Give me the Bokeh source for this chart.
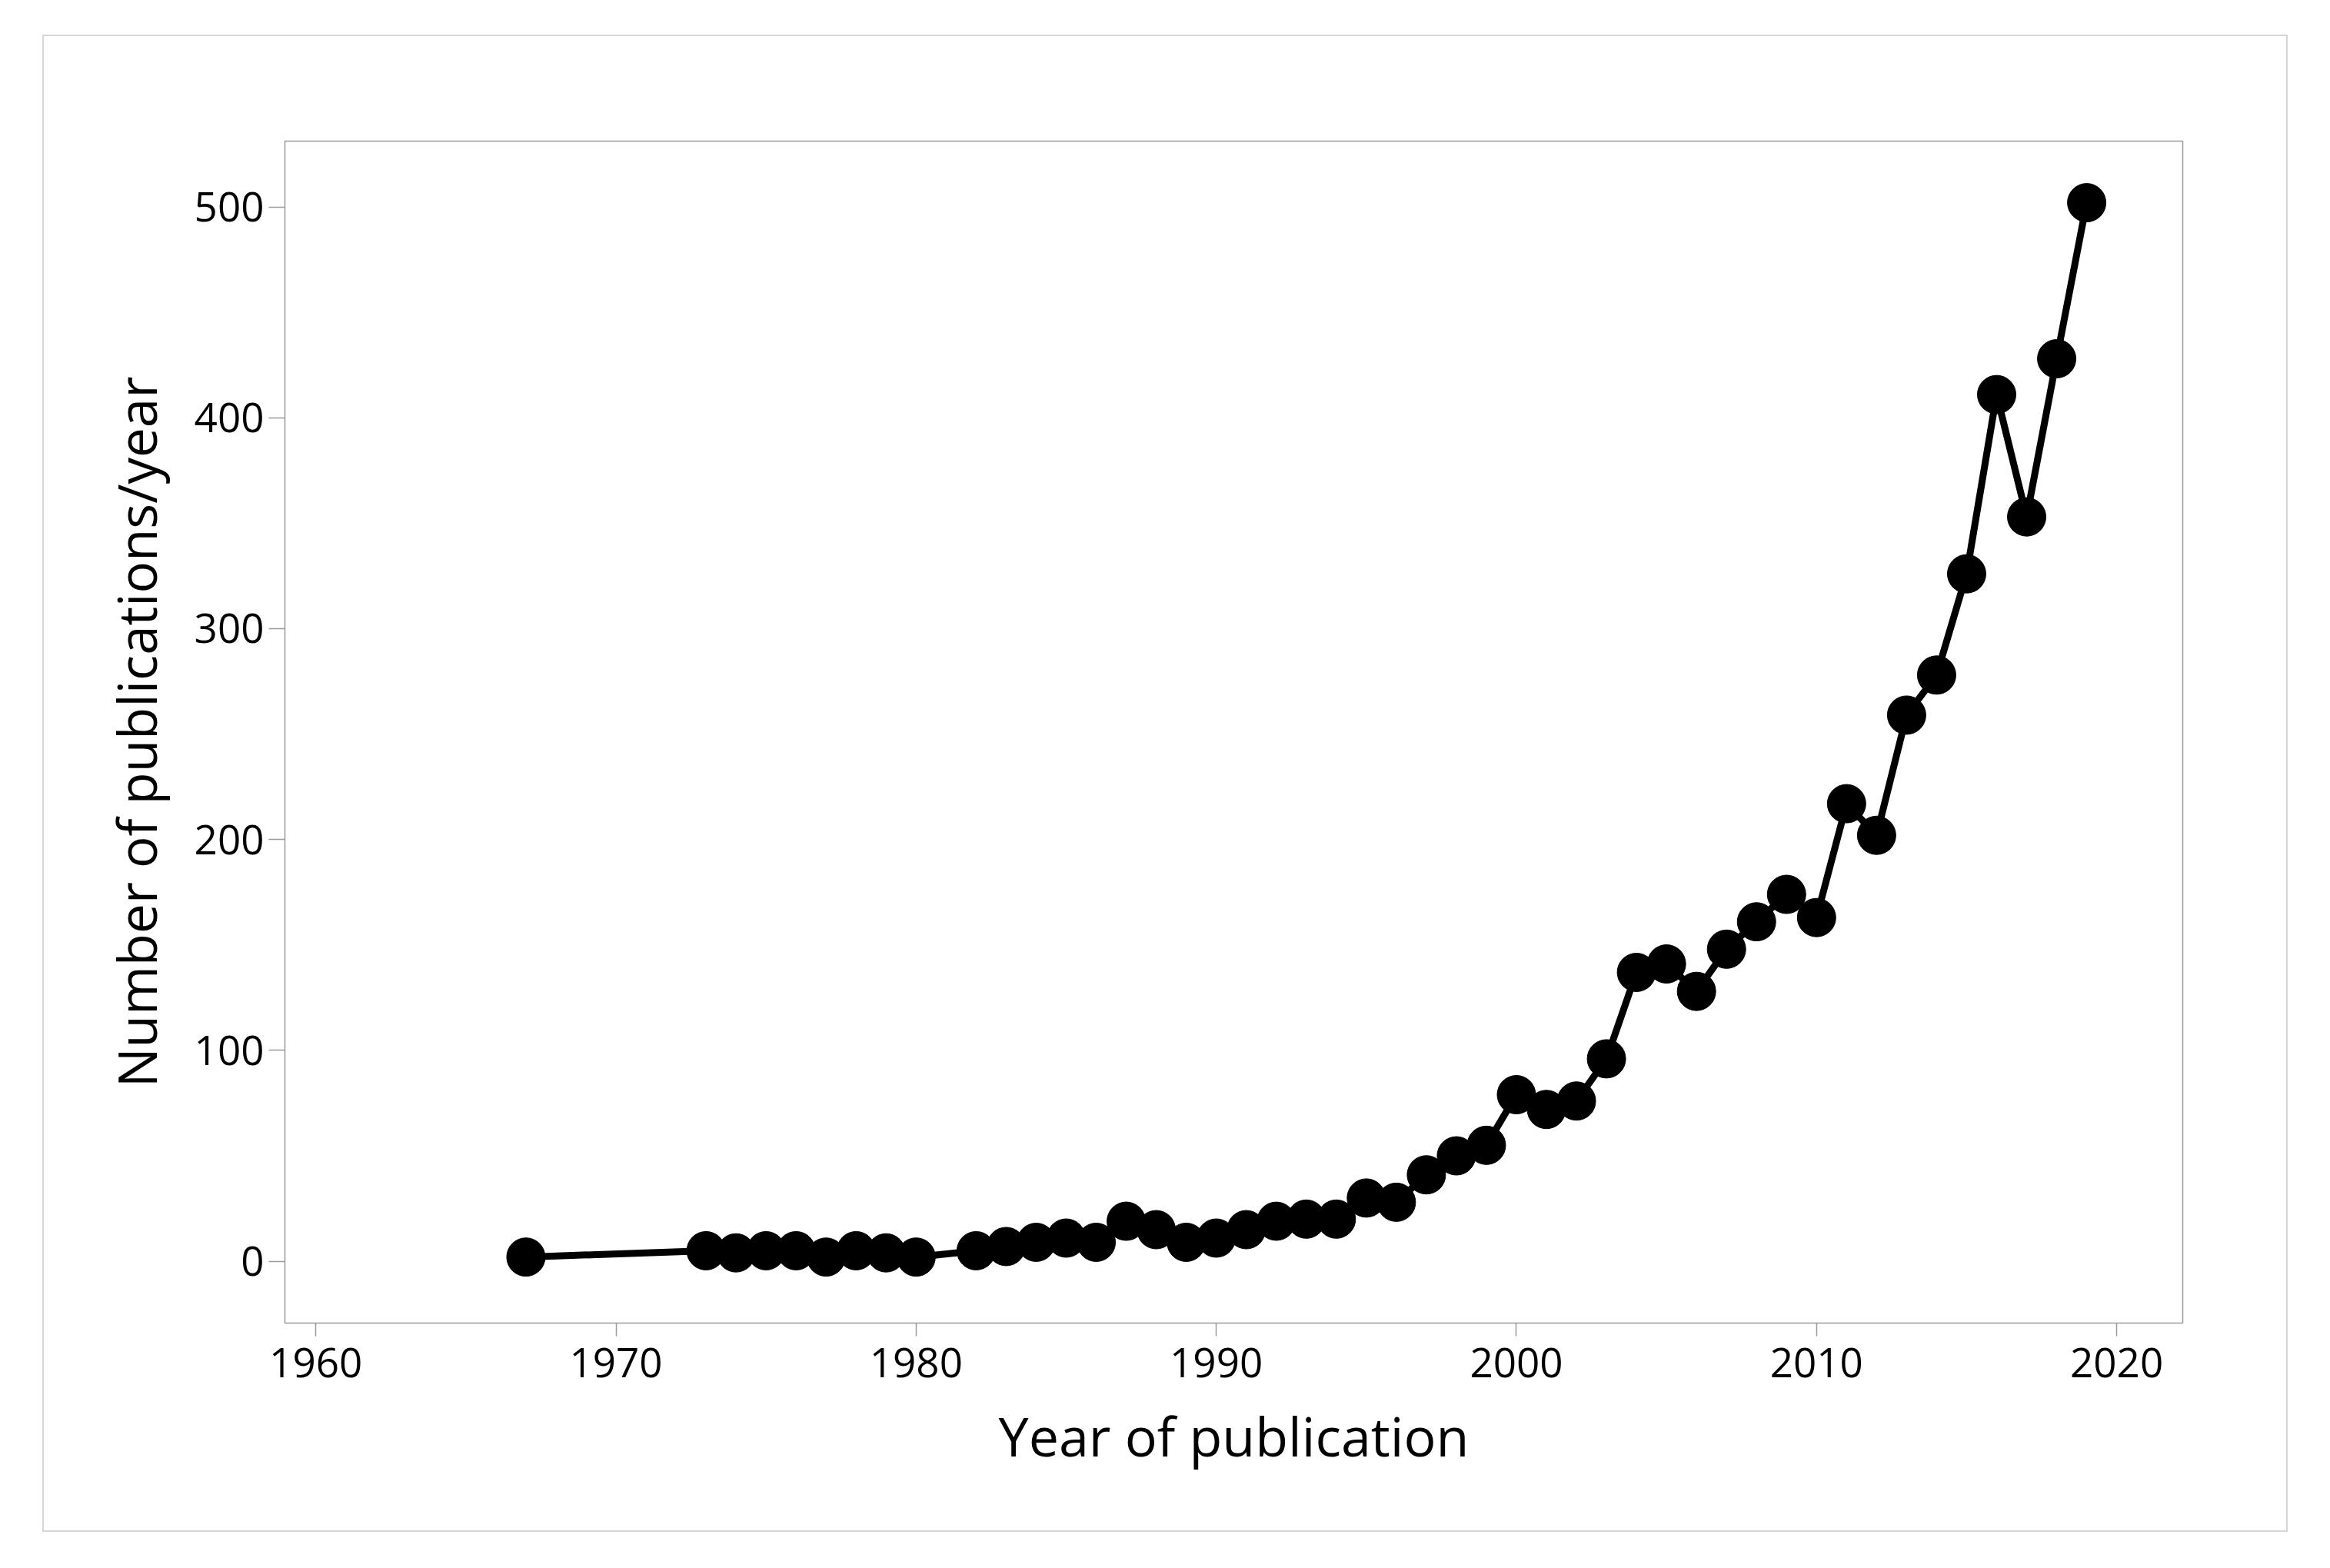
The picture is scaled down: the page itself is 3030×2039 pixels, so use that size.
from bokeh.plotting import figure
from bokeh.embed import file_html
from bokeh.resources import INLINE
from bokeh.models import Range1d, FixedTicker

years = [1967, 1973, 1974, 1975, 1976, 1977, 1978, 1979, 1980, 1982, 1983, 1984,
         1985, 1986, 1987, 1988, 1989, 1990, 1991, 1992, 1993, 1994, 1995, 1996,
         1997, 1998, 1999, 2000, 2001, 2002, 2003, 2004, 2005, 2006, 2007, 2008,
         2009, 2010, 2011, 2012, 2013, 2014, 2015, 2016, 2017, 2018, 2019]
counts = [2, 5, 4, 5, 5, 2, 5, 4, 2, 5, 7, 9,
          11, 9, 19, 15, 9, 11, 15, 19, 20, 20, 30, 28,
          41, 50, 55, 79, 72, 76, 96, 137, 141, 128, 148, 161,
          174, 163, 217, 202, 259, 278, 326, 411, 353, 428, 502]
x_ticks = [1960, 1970, 1980, 1990, 2000, 2010, 2020]
y_ticks = [0, 100, 200, 300, 400, 500]
x_title = "Year of publication"
y_title = "Number of publications/year"

FONT = "Open Sans"

p = figure(width=2920, height=1947, output_backend="svg", toolbar_location=None,
           x_range=Range1d(1958.97, 2022.2), y_range=Range1d(-29.3, 531.2),
           min_border_left=313, min_border_right=139, min_border_top=136,
           min_border_bottom=274)
p.margin = (45, 0, 0, 55)
p.styles = {"border": "2px solid #d6d6d6"}

p.grid.visible = False
p.outline_line_color = "#9a9a9a"
p.outline_line_width = 1.5
p.background_fill_color = "white"
p.border_fill_color = "white"

for ax, ticks in ((p.xaxis[0], x_ticks), (p.yaxis[0], y_ticks)):
    ax.ticker = FixedTicker(ticks=ticks)
    ax.axis_line_color = None
    ax.major_tick_line_color = "#9a9a9a"
    ax.major_tick_line_width = 1.5
    ax.major_tick_in = 0
    ax.minor_tick_line_color = None
    ax.major_label_text_font = FONT
    ax.major_label_text_font_size = "53px"
    ax.major_label_text_color = "black"
    ax.axis_label_text_font = FONT
    ax.axis_label_text_font_style = "normal"
    ax.axis_label_text_color = "black"

p.xaxis.axis_label_text_font_size = "70px"
p.yaxis.axis_label_text_font_size = "69px"
p.xaxis.major_tick_out = 17
p.yaxis.major_tick_out = 21
p.xaxis.major_label_standoff = 15
p.yaxis.major_label_standoff = 6
p.xaxis.axis_label = x_title
p.yaxis.axis_label = y_title
p.xaxis.axis_label_standoff = 25
p.yaxis.axis_label_standoff = 26

p.line(years, counts, line_color="black", line_width=9)
p.scatter(years, counts, size=50, fill_color="black", line_color="black")

open("out.html", "w").write(file_html(p, INLINE))
